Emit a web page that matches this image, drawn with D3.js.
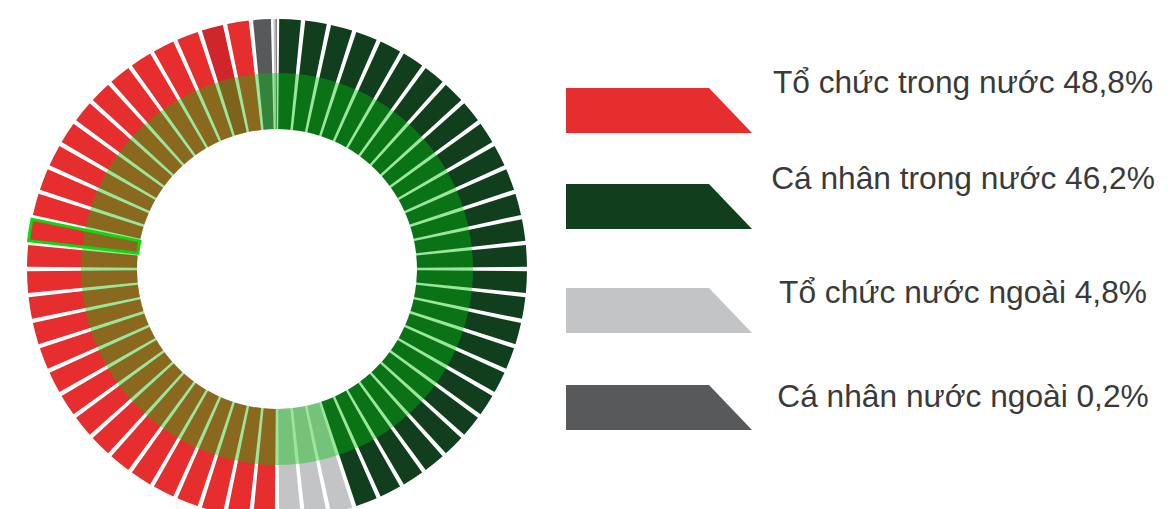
<!DOCTYPE html>
<html>
<head>
<meta charset="utf-8">
<script src="https://cdn.jsdelivr.net/npm/d3@7"></script>
<style>
  html, body { margin: 0; padding: 0; background: #fff; }
  svg { display: block; }
</style>
</head>
<body>
<div id="chart"></div>
<script>
// categories and their shares (%)
const categories = ["Tổ chức trong nước", "Cá nhân trong nước", "Tổ chức nước ngoài", "Cá nhân nước ngoài"];
const shares = [48.8, 46.2, 4.8, 0.2];
const colors = ["#e62e2e", "#113f1e", "#c3c4c6", "#58595b"];

// ring segments read clockwise from 12 o'clock (category index of each segment)
const ringCats = [
  1, 1, 1, 1, 1, 1, 1, 1, 1, 1, 1, 1, 1, 1, 1, 1, 1, 1, 1, 1, 1, 1, 1, 1, 1, 1, 1,
  2, 2, 2,
  0, 0, 0, 0, 0, 0, 0, 0, 0, 0, 0, 0, 0, 0, 0, 0, 0, 0, 0, 0, 0, 0, 0, 0, 0, 0, 0, 0, 0,
  3, 2, 3
];
// relative angular size of each segment
const ringSizes = [
  1, 1, 1, 1, 1, 1, 1, 1, 1, 1, 1, 1, 1, 1, 1, 1, 1, 1, 1, 1, 1, 1, 1, 1, 1, 1, 1,
  1, 1, 1,
  1, 1, 1, 1, 1, 1, 1, 1, 1, 1, 1, 1, 1, 1, 1, 1, 1, 1, 1, 1, 1, 1, 1, 1, 1, 1, 1, 1, 1,
  0.85, 0.08, 0.07
];
const hoverIndex = 57;     // darker segment
const selectedIndex = 46;  // outlined segment

// layout
const width = 1176, height = 509;
const cx = 277, cy = 269;
const innerR = 140, overlayR = 196, outerR = 250;
const gap = 1.0 * Math.PI / 180;

const svg = d3.select("#chart").append("svg")
  .attr("width", width)
  .attr("height", height);

const g = svg.append("g").attr("transform", "translate(" + cx + "," + cy + ")");

const pie = d3.pie().sort(null).value((d) => d.size);
const segData = ringCats.map((c, i) => ({ cat: c, size: ringSizes[i], i: i }));
const arcs = pie(segData).map((a) => {
  const pad = Math.min(gap, (a.endAngle - a.startAngle) * 0.3) / 2;
  return { ...a, startAngle: a.startAngle + pad, endAngle: a.endAngle - pad };
});

const arc = d3.arc().innerRadius(innerR).outerRadius(outerR);

g.selectAll("path.seg")
  .data(arcs)
  .enter().append("path")
  .attr("class", "seg")
  .attr("d", arc)
  .attr("fill", (d) => d.data.i === hoverIndex ? "#d0262b" : colors[d.data.cat]);

// translucent green band over the inner part of the ring
g.append("path")
  .attr("d", d3.arc().innerRadius(innerR).outerRadius(overlayR).startAngle(0).endAngle(2 * Math.PI)())
  .attr("fill", "rgb(0,195,11)")
  .attr("fill-opacity", 0.4);

// outlined (selected) segment
g.selectAll("path.sel")
  .data(arcs.filter((d) => d.data.i === selectedIndex))
  .enter().append("path")
  .attr("class", "sel")
  .attr("d", arc)
  .attr("fill", "none")
  .attr("stroke", "#0fd60f")
  .attr("stroke-width", 3);

// legend
const legX = 566, legW = 186, legH = 45, legCut = 43;
const legTop = [88, 184, 288, 385];
const textX = 963;
const textBase = [93, 189, 303, 407];

const legend = svg.append("g");
categories.forEach((c, i) => {
  const y = legTop[i];
  legend.append("path")
    .attr("d", "M" + legX + "," + y + "H" + (legX + legW - legCut) + "L" + (legX + legW) + "," + (y + legH) + "H" + legX + "Z")
    .attr("fill", colors[i]);
  legend.append("text")
    .attr("x", textX)
    .attr("y", textBase[i])
    .attr("text-anchor", "middle")
    .attr("font-family", "'Liberation Sans', Arial, sans-serif")
    .attr("font-size", 31.7)
    .attr("fill", "#3a3a3a")
    .text(c + " " + d3.format(".1f")(shares[i]).replace(".", ",") + "%");
});
</script>
</body>
</html>
